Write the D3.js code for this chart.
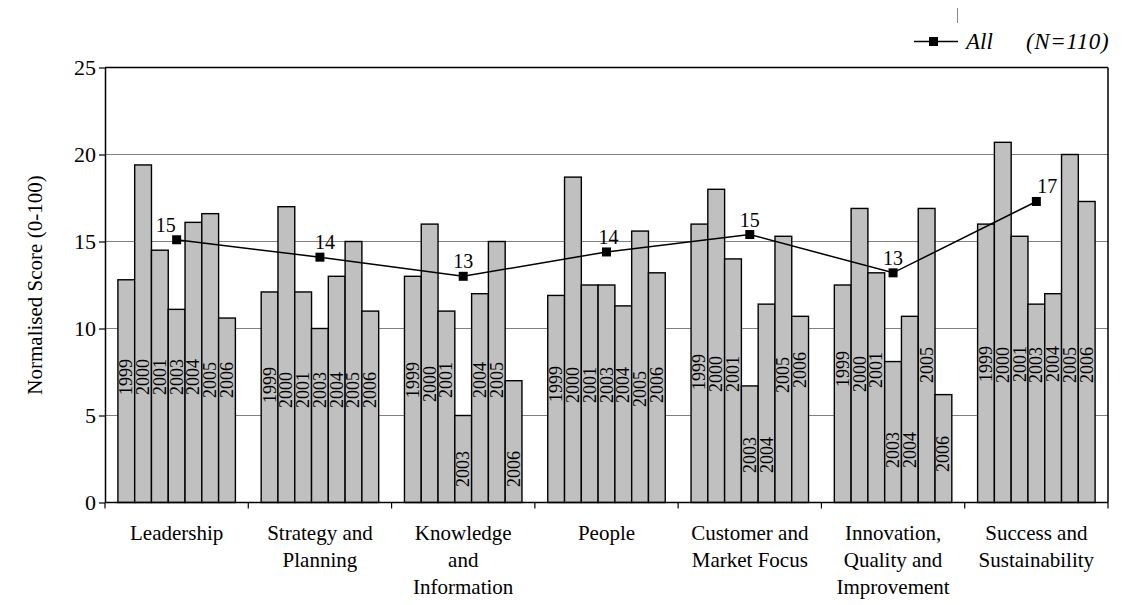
<!DOCTYPE html>
<html>
<head>
<meta charset="utf-8">
<script src="https://cdn.jsdelivr.net/npm/d3@7"></script>
<style>
  html, body { margin: 0; padding: 0; background: #fff; }
  svg { display: block; font-family: "Liberation Serif", "Times New Roman", serif; }
</style>
</head>
<body>
<svg id="chart" width="1123" height="605"></svg>
<script>
// Criteria categories (line breaks marked with |)
const categories = [
  "Leadership",
  "Strategy and|Planning",
  "Knowledge|and|Information",
  "People",
  "Customer and|Market Focus",
  "Innovation,|Quality and|Improvement",
  "Success and|Sustainability"
];
const years = ["1999", "2000", "2001", "2003", "2004", "2005", "2006"];

// Normalised score per year, one array per year, in category order
const score1999 = [12.8, 12.1, 13.0, 11.9, 16.0, 12.5, 16.0];
const score2000 = [19.4, 17.0, 16.0, 18.7, 18.0, 16.9, 20.7];
const score2001 = [14.5, 12.1, 11.0, 12.5, 14.0, 13.2, 15.3];
const score2003 = [11.1, 10.0,  5.0, 12.5,  6.7,  8.1, 11.4];
const score2004 = [16.1, 13.0, 12.0, 11.3, 11.4, 10.7, 12.0];
const score2005 = [16.6, 15.0, 15.0, 15.6, 15.3, 16.9, 20.0];
const score2006 = [10.6, 11.0,  7.0, 13.2, 10.7,  6.2, 17.3];

// All organisations combined (N=110)
const scoreAll = [15.1, 14.1, 13.0, 14.4, 15.4, 13.2, 17.3];
const scoreAllLabels = ["15", "14", "13", "14", "15", "13", "17"];

const yTicks = [0, 5, 10, 15, 20, 25];

const allSeries = [score1999, score2000, score2001, score2003, score2004, score2005, score2006];

// Where each year label starts along the bar, in score units (layout only)
const yearLabelAt = [
  [6.18, 6.18, 6.18, 6.18, 6.18, 6.0, 6.0],
  [5.72, 5.43, 5.43, 5.43, 5.43, 5.43, 5.43],
  [6.0, 5.78, 6.0, 0.89, 6.0, 6.0, 0.89],
  [5.78, 5.72, 5.72, 5.72, 5.72, 5.49, 5.72],
  [6.47, 6.35, 6.35, 1.69, 1.69, 6.3, 6.58],
  [6.64, 6.35, 6.58, 1.98, 1.98, 6.87, 1.75],
  [6.93, 6.87, 6.93, 6.87, 6.93, 6.87, 6.87]
];
// Horizontal nudge of the value labels on the "All" line (px)
const allLabelDx = [-11, 5, 0, 2, 0, 0, 11];

const svg = d3.select("#chart");
const margin = { left: 105, top: 67.5, right: 15, bottom: 102.5 };
const W = 1123, H = 605;
const innerW = W - margin.left - margin.right;
const innerH = H - margin.top - margin.bottom;

const g = svg.append("g").attr("transform", `translate(${margin.left},${margin.top})`);

const x0 = d3.scaleBand().domain(d3.range(categories.length)).range([0, innerW])
  .paddingInner(0.18).paddingOuter(0.09);
const x1 = d3.scaleBand().domain(years).range([0, x0.bandwidth()]).padding(0);
const y = d3.scaleLinear().domain([0, 25]).range([innerH, 0]);
const step = innerW / categories.length;

// Gridlines
g.append("g").selectAll("line").data(yTicks.filter(t => t > 0 && t < 25)).join("line")
  .attr("x1", 0).attr("x2", innerW)
  .attr("y1", d => y(d)).attr("y2", d => y(d))
  .attr("stroke", "#808080").attr("stroke-width", 1);

// Bars
const groups = g.append("g").selectAll("g").data(categories).join("g")
  .attr("transform", (d, i) => `translate(${x0(i)},0)`);

groups.each(function (cat, ci) {
  const grp = d3.select(this);
  const vals = years.map((yr, yi) => ({ yr, yi, v: allSeries[yi][ci] }));
  grp.selectAll("rect").data(vals).join("rect")
    .attr("x", d => x1(d.yr))
    .attr("width", x1.bandwidth())
    .attr("y", d => y(d.v))
    .attr("height", d => y(0) - y(d.v))
    .attr("fill", "#c0c0c0")
    .attr("stroke", "#000")
    .attr("stroke-width", 1.4);
  grp.selectAll("text").data(vals).join("text")
    .attr("transform", d => `translate(${x1(d.yr) + x1.bandwidth() / 2},${y(yearLabelAt[ci][d.yi])}) rotate(-90)`)
    .attr("dominant-baseline", "central")
    .attr("text-anchor", "start")
    .attr("font-size", 18)
    .attr("fill", "#000")
    .text(d => d.yr);
});

// Plot frame: top and right border
g.append("line").attr("x1", 0).attr("x2", innerW).attr("y1", 0).attr("y2", 0)
  .attr("stroke", "#000").attr("stroke-width", 1.5);
g.append("line").attr("x1", innerW).attr("x2", innerW).attr("y1", 0).attr("y2", innerH)
  .attr("stroke", "#000").attr("stroke-width", 1.5);

// Y axis
const yAxis = g.append("g")
  .call(d3.axisLeft(y).tickValues(yTicks).tickSize(6).tickSizeOuter(0).tickPadding(3));
yAxis.attr("font-family", null).attr("font-size", null);
yAxis.select(".domain").attr("stroke", "#000").attr("stroke-width", 1.5);
yAxis.selectAll(".tick line").attr("stroke", "#000").attr("stroke-width", 1.2);
yAxis.selectAll(".tick text").attr("font-size", 22).attr("fill", "#000");

// X axis line and ticks between categories
g.append("line").attr("x1", 0).attr("x2", innerW).attr("y1", innerH).attr("y2", innerH)
  .attr("stroke", "#000").attr("stroke-width", 1.5);
g.append("g").selectAll("line").data(d3.range(categories.length + 1)).join("line")
  .attr("x1", d => d * step).attr("x2", d => d * step)
  .attr("y1", innerH).attr("y2", innerH + 6)
  .attr("stroke", "#000").attr("stroke-width", 1.2);

// Category labels
const catLabels = g.append("g").selectAll("text").data(categories).join("text")
  .attr("text-anchor", "middle")
  .attr("font-size", 21)
  .attr("fill", "#000")
  .attr("transform", (d, i) => `translate(${x0(i) + x0.bandwidth() / 2},${innerH + 37})`);
catLabels.each(function (d) {
  const t = d3.select(this);
  d.split("|").forEach((line, li) => {
    t.append("tspan").attr("x", 0).attr("y", li * 27).text(line);
  });
});

// Y axis title
svg.append("text")
  .attr("transform", `translate(42,${margin.top + innerH / 2}) rotate(-90)`)
  .attr("text-anchor", "middle")
  .attr("font-size", 21)
  .attr("fill", "#000")
  .text("Normalised Score (0-100)");

// "All" line
const cx = i => x0(i) + x0.bandwidth() / 2;
const line = d3.line().x((d, i) => cx(i)).y(d => y(d));
g.append("path").datum(scoreAll)
  .attr("d", line).attr("fill", "none").attr("stroke", "#000").attr("stroke-width", 1.5);
g.append("g").selectAll("rect").data(scoreAll).join("rect")
  .attr("x", (d, i) => cx(i) - 4.5).attr("y", d => y(d) - 4.5)
  .attr("width", 9).attr("height", 9).attr("fill", "#000");
g.append("g").selectAll("text").data(scoreAll).join("text")
  .attr("x", (d, i) => cx(i) + allLabelDx[i])
  .attr("y", d => y(d) - 8)
  .attr("text-anchor", "middle")
  .attr("font-size", 20)
  .attr("fill", "#000")
  .text((d, i) => scoreAllLabels[i]);

// Legend
const lg = svg.append("g");
lg.append("line").attr("x1", 914).attr("x2", 958).attr("y1", 41.5).attr("y2", 41.5)
  .attr("stroke", "#000").attr("stroke-width", 1.5);
lg.append("rect").attr("x", 929).attr("y", 37).attr("width", 9).attr("height", 9).attr("fill", "#000");
lg.append("line").attr("x1", 957.5).attr("x2", 957.5).attr("y1", 8).attr("y2", 23)
  .attr("stroke", "#888").attr("stroke-width", 1);
lg.append("text").attr("x", 966).attr("y", 49).attr("font-size", 23).attr("font-style", "italic")
  .attr("fill", "#000").text("All");
lg.append("text").attr("x", 1026).attr("y", 49).attr("font-size", 23).attr("font-style", "italic")
  .attr("letter-spacing", 0.6)
  .attr("fill", "#000").text("(N=110)");
</script>
</body>
</html>
